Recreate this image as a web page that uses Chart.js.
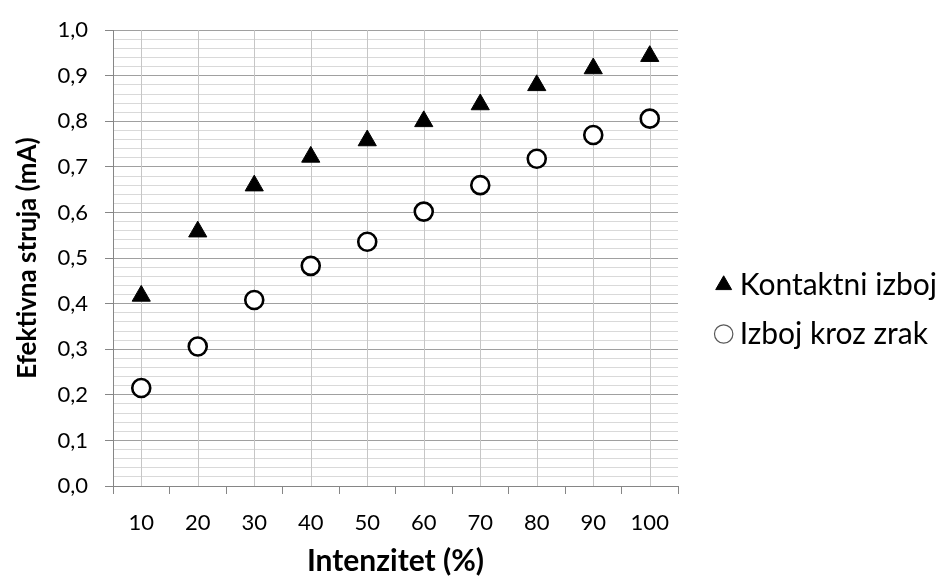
<!DOCTYPE html>
<html>
<head>
<meta charset="utf-8">
<script src="https://cdn.jsdelivr.net/npm/chart.js@4"></script>
<style>
  html, body { margin: 0; padding: 0; background: #fff; }
  #wrap { width: 951px; height: 583px; }
</style>
</head>
<body>
<div id="wrap"><canvas id="grafikon"></canvas></div>
<script>
// Podaci
const intenzitet = ['10', '20', '30', '40', '50', '60', '70', '80', '90', '100'];
const kontaktniIzboj = [0.417, 0.558, 0.659, 0.722, 0.758, 0.800, 0.837, 0.879, 0.916, 0.943];
const izbojKrozZrak = [0.215, 0.306, 0.408, 0.483, 0.536, 0.602, 0.660, 0.718, 0.770, 0.806];
const yMin = 0;
const yMax = 1;
const yKorak = 0.02;

Chart.defaults.font.family = 'Lato, "Open Sans", sans-serif';
Chart.defaults.color = '#000';

const jeGlavna = v => Math.round(v * 100) % 10 === 0;

// okomite linije mreze kroz sredine kategorija
const srednjeLinije = {
    id: 'srednjeLinije',
    beforeDatasetsDraw(chart) {
        const { ctx, chartArea, scales: { x } } = chart;
        ctx.save();
        ctx.strokeStyle = '#c6c6c6';
        ctx.lineWidth = 1;
        intenzitet.forEach((_, i) => {
            const px = Math.round(x.getPixelForTick(i)) + 0.5;
            ctx.beginPath();
            ctx.moveTo(px, chartArea.top);
            ctx.lineTo(px, chartArea.bottom);
            ctx.stroke();
        });
        ctx.restore();
    }
};

const ctx = document.getElementById('grafikon').getContext('2d');

new Chart(ctx, {
    type: 'line',
    data: {
        labels: intenzitet,
        datasets: [
            {
                label: 'Kontaktni izboj',
                data: kontaktniIzboj,
                showLine: false,
                pointStyle: 'triangle',
                pointRadius: 10.5,
                pointHoverRadius: 10.5,
                backgroundColor: '#000',
                borderColor: '#000',
                borderWidth: 1
            },
            {
                label: 'Izboj kroz zrak',
                data: izbojKrozZrak,
                showLine: false,
                pointStyle: 'circle',
                pointRadius: 9,
                pointHoverRadius: 9,
                backgroundColor: '#fff',
                borderColor: '#000',
                borderWidth: 2.6
            }
        ]
    },
    options: {
        responsive: true,
        maintainAspectRatio: false,
        animation: false,
        layout: { padding: { top: 26, right: 4, bottom: 0, left: 0 } },
        plugins: {
            tooltip: { enabled: false },
            legend: {
                position: 'right',
                maxWidth: 320,
                title: { display: true, text: '', font: { size: 8, lineHeight: 1 }, padding: { top: 1, bottom: 1 } },
                labels: {
                    usePointStyle: true,
                    boxWidth: 2,
                    boxHeight: 13,
                    padding: 19,
                    color: '#000',
                    font: { size: 30 },
                    generateLabels(chart) {
                        const items = Chart.defaults.plugins.legend.labels.generateLabels(chart);
                        items[0].lineWidth = 1;
                        items[1].lineWidth = 1.2;
                        items[1].strokeStyle = '#595959';
                        items[1].fillStyle = '#fff';
                        return items;
                    }
                }
            }
        },
        scales: {
            x: {
                type: 'category',
                offset: true,
                afterFit(scale) { scale.height = 97; },
                border: { color: '#868686', width: 1 },
                grid: {
                    offset: true,
                    drawOnChartArea: false,
                    tickLength: 8,
                    color: '#868686'
                },
                ticks: {
                    padding: 16,
                    font: { size: 22 },
                    maxRotation: 0
                },
                title: {
                    display: true,
                    text: 'Intenzitet (%)',
                    font: { size: 30, weight: 'bold' },
                    padding: { top: 0, bottom: 4 }
                }
            },
            y: {
                min: yMin,
                max: yMax,
                afterFit(scale) { scale.width = 113; },
                border: { color: '#868686', width: 1 },
                grid: {
                    tickLength: 8,
                    color: c => jeGlavna(c.tick.value) ? '#a0a0a0' : '#d9d9d9',
                    tickColor: c => jeGlavna(c.tick.value) ? '#868686' : 'rgba(0,0,0,0)'
                },
                ticks: {
                    stepSize: yKorak,
                    autoSkip: false,
                    padding: 17,
                    font: { size: 22 },
                    callback: v => jeGlavna(v) ? v.toFixed(1).replace('.', ',') : ''
                },
                title: {
                    display: true,
                    text: 'Efektivna struja (mA)',
                    font: { size: 26, weight: 'bold' },
                    padding: { top: 12, bottom: 0 }
                }
            },
            yDesno: {
                position: 'right',
                display: true,
                // razmak izmedu podrucja grafa i legende
                afterFit(scale) {
                    const leg = scale.chart.legend;
                    scale.width = Math.max(0, 951 - 4 - 678 - (leg ? leg.width : 0));
                },
                border: { display: false },
                grid: { display: false, drawOnChartArea: false },
                ticks: { display: false }
            }
        }
    },
    plugins: [srednjeLinije]
});
</script>
</body>
</html>
